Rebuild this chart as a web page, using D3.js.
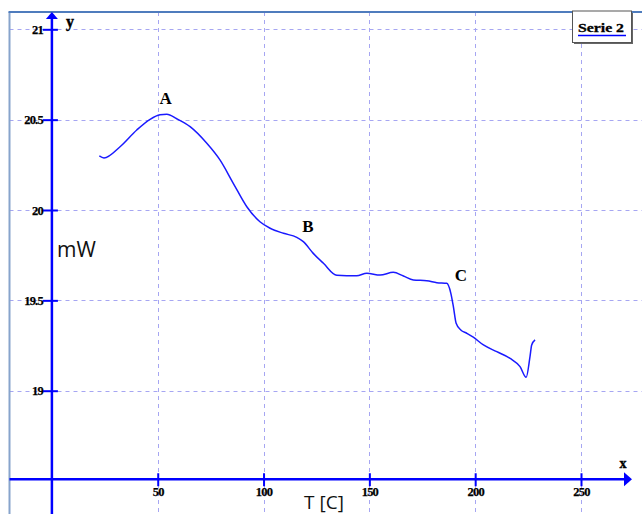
<!DOCTYPE html>
<html>
<head>
<meta charset="utf-8">
<script src="https://cdn.jsdelivr.net/npm/d3@7"></script>
<style>
  html, body { margin: 0; padding: 0; background: #fff; }
  svg { display: block; }
  .tk text { font-family: "Liberation Serif", "Times New Roman", serif; font-weight: bold; font-size: 12.5px; fill: #000; letter-spacing: -0.8px; stroke: #000; stroke-width: 0.25px; }
</style>
</head>
<body>
<svg id="chart" width="642" height="514"></svg>
<script>
// Heat-flow curve: temperature (°C) vs power (mW)
const temps = [22.4, 24.6, 32.2, 40.1, 46.4, 51.1, 54.3, 59.0, 65.3, 73.2, 79.4, 85.7, 92.1, 98.3, 103.1,
  109.4, 115.7, 118.8, 123.5, 128.3, 134.6, 144.0, 148.8, 155.1, 161.3, 166.1, 170.8, 177.1, 181.9,
  186.6, 188.5, 189.7, 191.0, 193.2, 196.0, 199.1, 203.9, 210.2, 216.5, 221.2, 224.1, 225.9, 226.7, 228.3];
const power = [20.299, 20.288, 20.350, 20.443, 20.502, 20.527, 20.530, 20.505, 20.461, 20.369, 20.277,
  20.148, 20.018, 19.935, 19.899, 19.871, 19.849, 19.825, 19.760, 19.705, 19.639, 19.636, 19.650,
  19.640, 19.655, 19.635, 19.613, 19.609, 19.598, 19.594, 19.539, 19.465, 19.373, 19.336, 19.318,
  19.296, 19.253, 19.216, 19.179, 19.133, 19.074, 19.188, 19.253, 19.281];

const xTicks = [50, 100, 150, 200, 250];
const yTicks = [19, 19.5, 20, 20.5, 21];

// Point labels (name, temperature, power)
const markNames = ["A", "B", "C"];
const markTemps = [53.8, 121.0, 193.3];
const markPower = [20.587, 19.878, 19.609];

const seriesName = "Serie 2";

const W = 642, H = 514;
const svg = d3.select("#chart");

const x = d3.scaleLinear().domain([0, 250]).range([51.9, 581]);
const y = d3.scaleLinear().domain([19, 21]).range([390.7, 29.3]);
const xAxisAt = 18.51;
const x0 = x(0), y0 = y(xAxisAt);

const frameLeft = 9.5, frameTop = 12;

// dashed grid
const grid = svg.append("g");
grid.selectAll("line.h").data(yTicks).join("line")
  .attr("x1", frameLeft).attr("x2", W)
  .attr("y1", d => Math.round(y(d)) + 0.5).attr("y2", d => Math.round(y(d)) + 0.5)
  .attr("stroke", "#a6a6f2").attr("stroke-width", 1).attr("stroke-dasharray", "4,4");
grid.selectAll("line.v").data(xTicks).join("line")
  .attr("y1", frameTop).attr("y2", H)
  .attr("x1", d => Math.round(x(d)) + 0.5).attr("x2", d => Math.round(x(d)) + 0.5)
  .attr("stroke", "#a6a6f2").attr("stroke-width", 1).attr("stroke-dasharray", "4,4");

// frame
svg.append("line").attr("x1", frameLeft).attr("x2", frameLeft).attr("y1", frameTop).attr("y2", H)
  .attr("stroke", "#87a4cc").attr("stroke-width", 2);
svg.append("line").attr("x1", frameLeft - 1).attr("x2", W).attr("y1", frameTop).attr("y2", frameTop)
  .attr("stroke", "#4f7cbd").attr("stroke-width", 2);

// axes
const axisBlue = "#0000ff";
const yAxis = svg.append("g").attr("class", "tk").attr("transform", `translate(${x0},0)`)
  .call(d3.axisLeft(y).tickValues(yTicks).tickFormat(d => String(d)).tickSize(0).tickPadding(9));
yAxis.select(".domain").remove();
yAxis.selectAll(".tick line").attr("x1", -9).attr("x2", 6).attr("stroke", axisBlue).attr("stroke-width", 2);

const xAxis = svg.append("g").attr("class", "tk").attr("transform", `translate(0,${y0})`)
  .call(d3.axisBottom(x).tickValues(xTicks).tickSize(0).tickPadding(8));
xAxis.select(".domain").remove();
xAxis.selectAll(".tick line").attr("y1", -6).attr("y2", 7).attr("stroke", axisBlue).attr("stroke-width", 2);

svg.append("line").attr("x1", x0).attr("x2", x0).attr("y1", frameTop + 4).attr("y2", H)
  .attr("stroke", axisBlue).attr("stroke-width", 2.5);
svg.append("line").attr("x1", frameLeft).attr("x2", 626).attr("y1", y0).attr("y2", y0)
  .attr("stroke", axisBlue).attr("stroke-width", 2.5);
svg.append("path").attr("d", `M${x0},${frameTop} L${x0 - 6},${frameTop + 7} L${x0 + 6},${frameTop + 7} Z`).attr("fill", axisBlue);
svg.append("path").attr("d", `M632,${y0} L624,${y0 - 7} L624,${y0 + 7} Z`).attr("fill", axisBlue);

// axis letters
svg.append("text").attr("x", 70).attr("y", 27).attr("text-anchor", "middle")
  .style("font", "bold 16px 'Liberation Serif', serif").attr("stroke", "#000").attr("stroke-width", 0.4).text("y");
svg.append("text").attr("x", 623).attr("y", 467.5).attr("text-anchor", "middle")
  .style("font", "bold 14px 'Liberation Serif', serif").attr("stroke", "#000").attr("stroke-width", 0.4).text("x");

// axis titles
svg.append("text").attr("x", 57).attr("y", 256.5)
  .style("font", "21px 'Open Sans', sans-serif").attr("fill", "#111").text("mW");
svg.append("text").attr("x", 324).attr("y", 508.5).attr("text-anchor", "middle")
  .style("font", "19px 'Open Sans', sans-serif").attr("fill", "#111").text("T [C]");

// curve
const pts = temps.map((t, i) => [t, power[i]]);
svg.append("path").datum(pts)
  .attr("fill", "none").attr("stroke", "#1a1aff").attr("stroke-width", 1.5)
  .attr("stroke-linejoin", "round")
  .attr("d", d3.line().x(d => x(d[0])).y(d => y(d[1])).curve(d3.curveMonotoneX));

// point labels
svg.append("g").selectAll("text").data(markNames).join("text")
  .attr("x", (d, i) => x(markTemps[i])).attr("y", (d, i) => y(markPower[i]))
  .attr("text-anchor", "middle")
  .style("font", "bold 17px 'Liberation Serif', serif").text(d => d);

// legend
const lg = svg.append("g");
lg.append("rect").attr("x", 574).attr("y", 13).attr("width", 59).attr("height", 31).attr("fill", "#666");
lg.append("rect").attr("x", 572.5).attr("y", 11).attr("width", 59).attr("height", 31.5)
  .attr("fill", "#fff").attr("stroke", "#555").attr("stroke-width", 1);
lg.append("text").attr("x", 578).attr("y", 31.5).attr("textLength", 46).attr("lengthAdjust", "spacingAndGlyphs")
  .style("font", "bold 13px 'Liberation Serif', serif").attr("stroke", "#000").attr("stroke-width", 0.3).text(seriesName);
lg.append("line").attr("x1", 578).attr("x2", 626).attr("y1", 35.5).attr("y2", 35.5)
  .attr("stroke", "#0000ff").attr("stroke-width", 1.5);
</script>
</body>
</html>
